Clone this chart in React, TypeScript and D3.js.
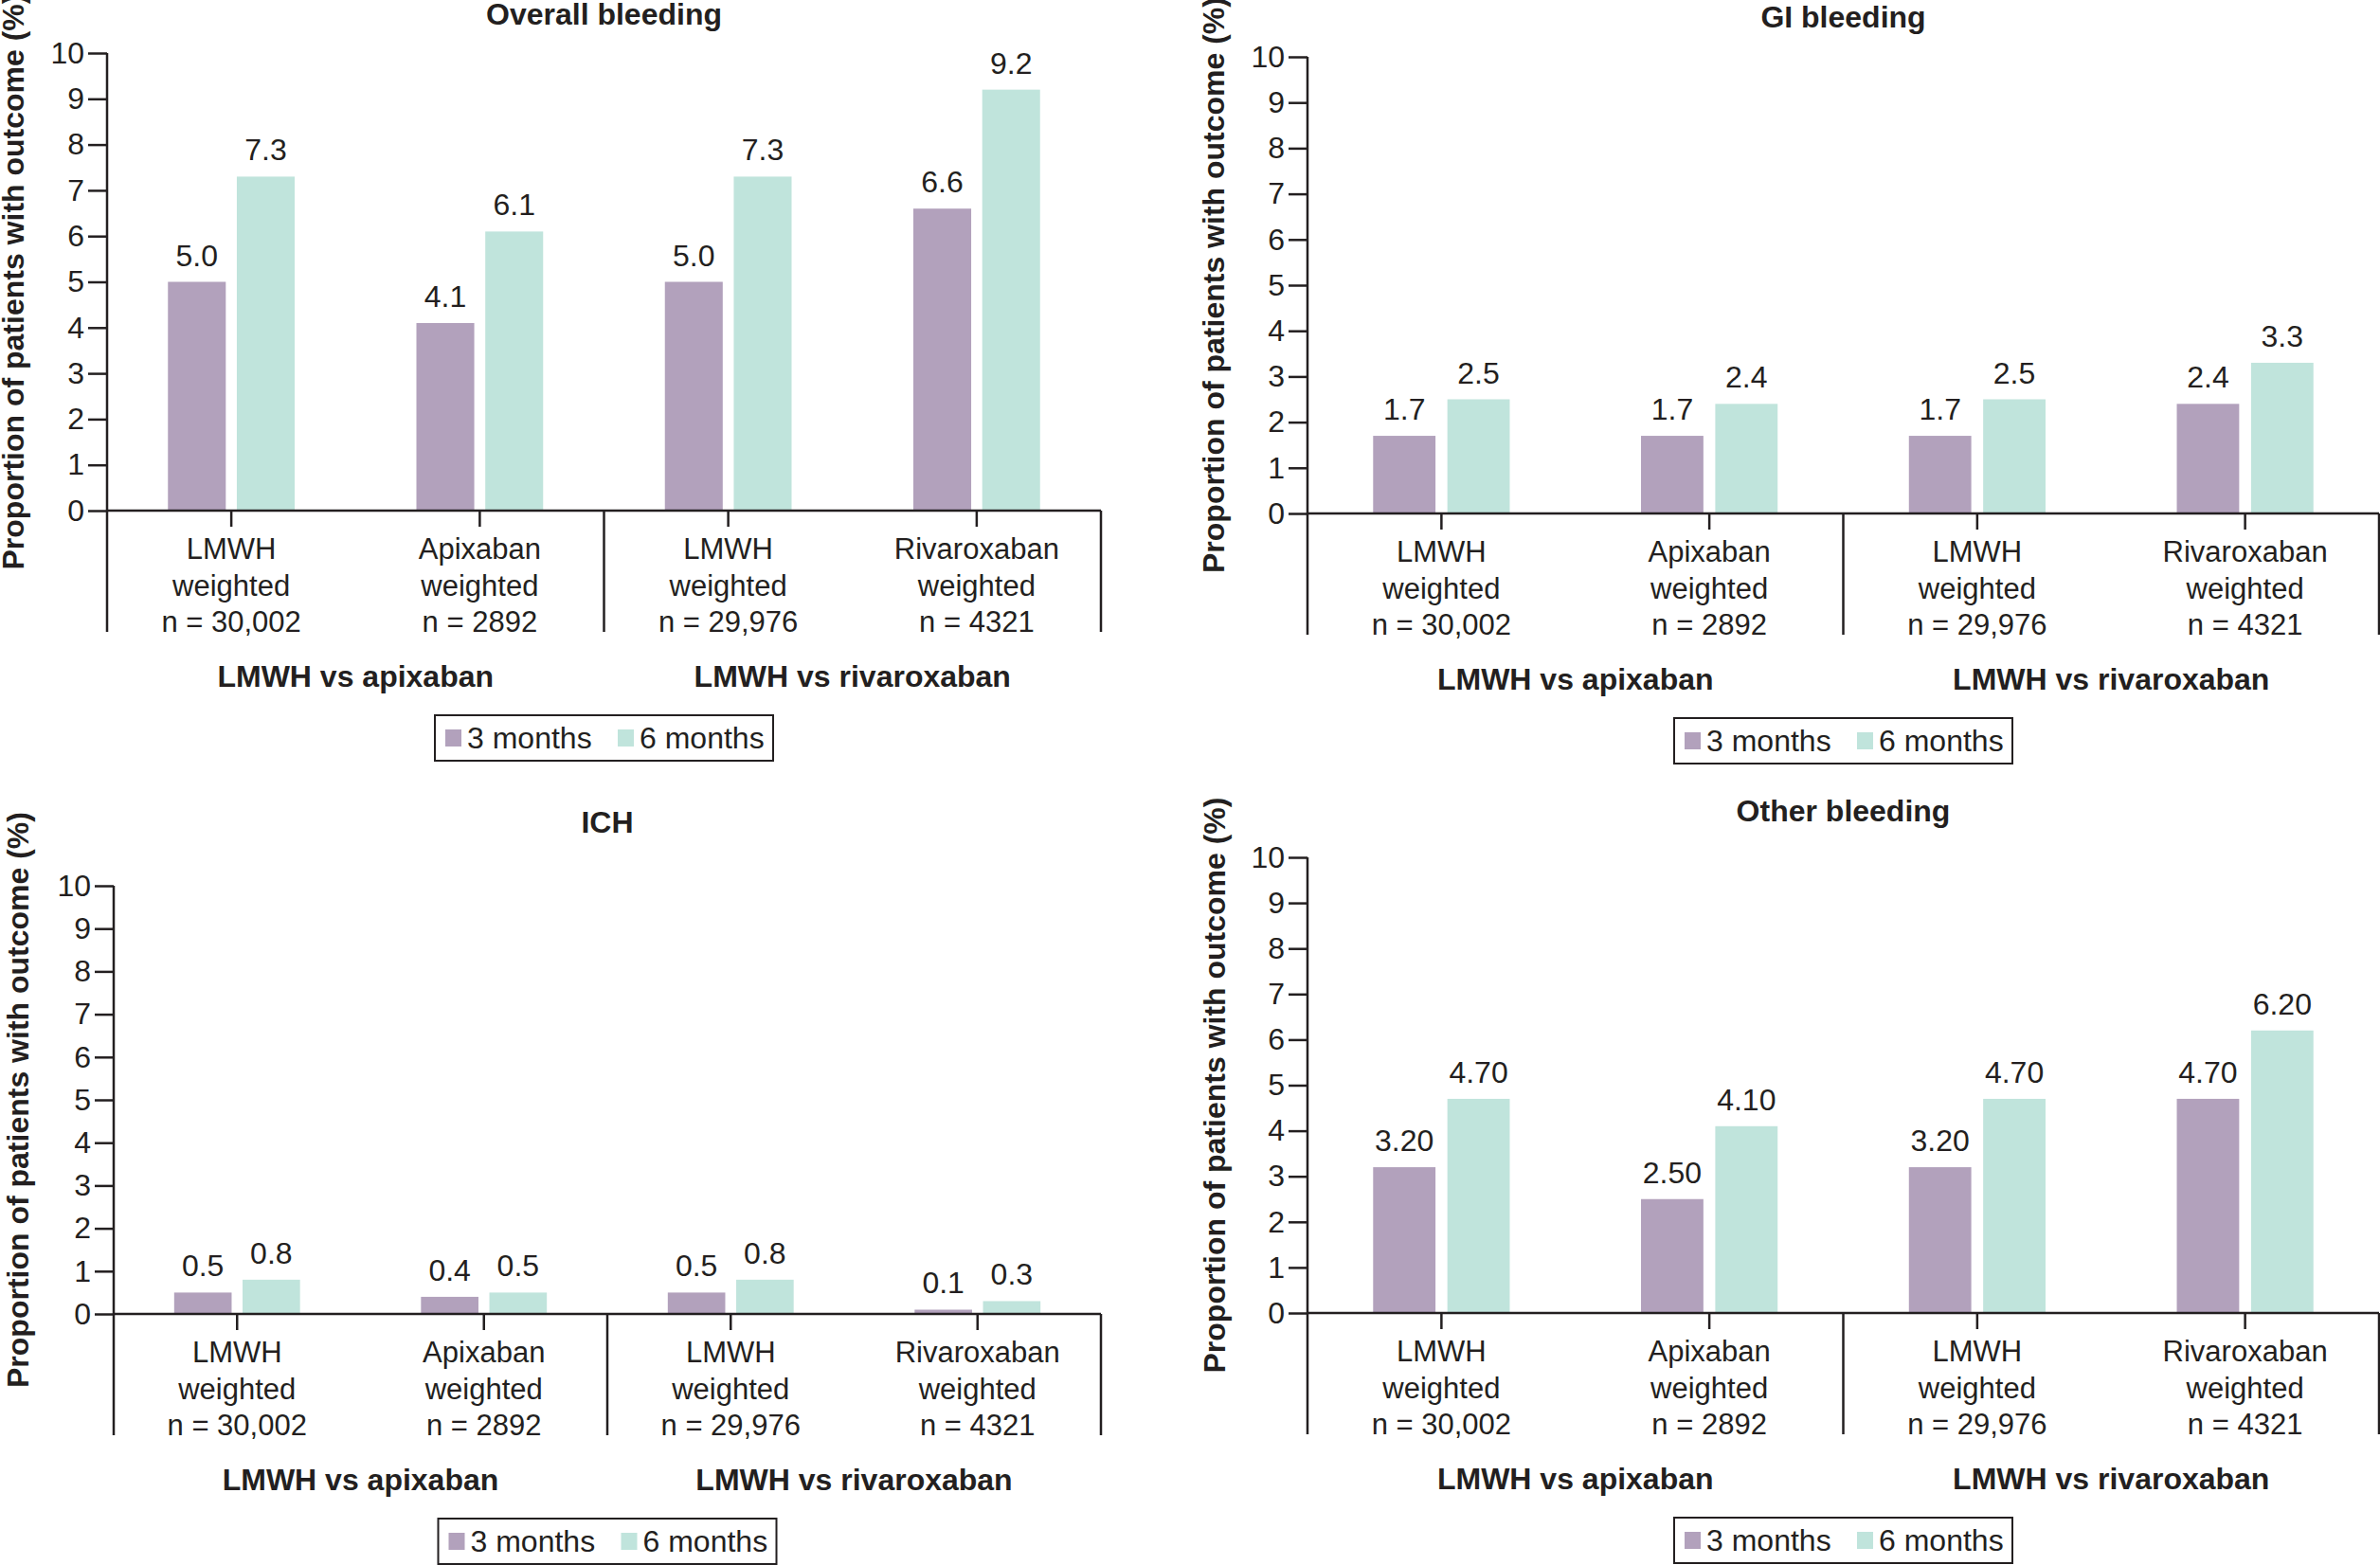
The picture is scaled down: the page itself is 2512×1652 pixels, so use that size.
import React, { useEffect, useRef } from "react";
import { select, scaleBand, scaleLinear, axisLeft } from "d3";

// categories along the x axis, one entry per line of the label
const categoryLines = [
  ["LMWH", "weighted", "n = 30,002"],
  ["Apixaban", "weighted", "n = 2892"],
  ["LMWH", "weighted", "n = 29,976"],
  ["Rivaroxaban", "weighted", "n = 4321"],
];
const groupLabels = ["LMWH vs apixaban", "LMWH vs rivaroxaban"];
const seriesNames = ["3 months", "6 months"];
const yTicks = [0, 1, 2, 3, 4, 5, 6, 7, 8, 9, 10];

const overall3 = [5.0, 4.1, 5.0, 6.6];
const overall6 = [7.3, 6.1, 7.3, 9.2];
const gi3 = [1.7, 1.7, 1.7, 2.4];
const gi6 = [2.5, 2.4, 2.5, 3.3];
const ich3 = [0.5, 0.4, 0.5, 0.1];
const ich6 = [0.8, 0.5, 0.8, 0.3];
const other3 = [3.2, 2.5, 3.2, 4.7];
const other6 = [4.7, 4.1, 4.7, 6.2];

const colors = ["#b2a1bc", "#c0e4dc"];
const ink = "#231f20";
const font = "'Liberation Sans', Arial, Helvetica, sans-serif";

const panels = [
  { title: "Overall bleeding", s3: overall3, s6: overall6, digits: 1, x0: 113, x1: 1162, yTop: 56, y0: 539, titleY: 15, yTitleX: 14 },
  { title: "GI bleeding", s3: gi3, s6: gi6, digits: 1, x0: 1380, x1: 2511, yTop: 60, y0: 542, titleY: 18, yTitleX: 1281 },
  { title: "ICH", s3: ich3, s6: ich6, digits: 1, x0: 120, x1: 1162, yTop: 935, y0: 1387, titleY: 868, yTitleX: 19 },
  { title: "Other bleeding", s3: other3, s6: other6, digits: 2, x0: 1380, x1: 2511, yTop: 905, y0: 1386, titleY: 856, yTitleX: 1282 },
];

export default function App() {
  const svgRef = useRef<SVGSVGElement>(null);

  useEffect(() => {
    const svg = select(svgRef.current);
    svg.selectAll("*").remove();

    panels.forEach((p) => {
      const g = svg.append("g").attr("font-family", font).attr("fill", ink);
      const mid = (p.x0 + p.x1) / 2;
      const bottom = p.y0 + 128;

      const x = scaleBand<number>().domain([0, 1, 2, 3]).range([p.x0, p.x1]);
      const inner = scaleBand<number>()
        .domain([0, 1])
        .range([x.bandwidth() * 0.245, x.bandwidth() * 0.755])
        .paddingInner(0.16);
      const y = scaleLinear().domain([0, 10]).range([p.y0, p.yTop]);

      // title
      g.append("text")
        .attr("x", mid)
        .attr("y", p.titleY + 11)
        .attr("text-anchor", "middle")
        .attr("font-size", 32)
        .attr("font-weight", "bold")
        .text(p.title);

      // y axis title
      g.append("text")
        .attr("transform", `translate(${p.yTitleX},${(p.y0 + p.yTop) / 2}) rotate(-90)`)
        .attr("text-anchor", "middle")
        .attr("dominant-baseline", "central")
        .attr("font-size", 32)
        .attr("font-weight", "bold")
        .text("Proportion of patients with outcome (%)");

      // bars
      const series = [p.s3, p.s6];
      series.forEach((vals, si) => {
        g.selectAll(null)
          .data(vals)
          .join("rect")
          .attr("x", (_, i) => (x(i) as number) + (inner(si) as number))
          .attr("width", inner.bandwidth())
          .attr("y", (v) => y(v))
          .attr("height", (v) => p.y0 - y(v))
          .attr("fill", colors[si]);

        g.selectAll(null)
          .data(vals)
          .join("text")
          .attr("x", (_, i) => (x(i) as number) + (inner(si) as number) + inner.bandwidth() / 2)
          .attr("y", (v) => y(v) - 17)
          .attr("text-anchor", "middle")
          .attr("font-size", 32)
          .text((v) => v.toFixed(p.digits));
      });

      // y axis
      const yAxis = axisLeft(y).tickValues(yTicks).tickSize(20).tickPadding(4).tickSizeOuter(0);
      const ya = g.append("g").attr("transform", `translate(${p.x0},0)`).call(yAxis);
      ya.select(".domain").remove();
      ya.selectAll("line").attr("stroke", ink).attr("stroke-width", 2.5);
      ya.selectAll("text").attr("font-size", 32).attr("font-family", font).attr("fill", ink);

      const lines = g.append("g").attr("stroke", ink).attr("stroke-width", 2.5);
      // vertical axis line continuing down into the label area
      lines.append("line").attr("x1", p.x0).attr("x2", p.x0).attr("y1", p.yTop).attr("y2", bottom);
      lines.append("line").attr("x1", mid).attr("x2", mid).attr("y1", p.y0).attr("y2", bottom);
      lines.append("line").attr("x1", p.x1).attr("x2", p.x1).attr("y1", p.y0).attr("y2", bottom);
      // baseline
      lines.append("line").attr("x1", p.x0).attr("x2", p.x1).attr("y1", p.y0).attr("y2", p.y0);
      // category ticks
      lines
        .selectAll(null)
        .data(categoryLines)
        .join("line")
        .attr("x1", (_, i) => (x(i) as number) + x.bandwidth() / 2)
        .attr("x2", (_, i) => (x(i) as number) + x.bandwidth() / 2)
        .attr("y1", p.y0)
        .attr("y2", p.y0 + 17);

      // category labels
      categoryLines.forEach((cl, i) => {
        const cx = (x(i) as number) + x.bandwidth() / 2;
        cl.forEach((t, li) => {
          g.append("text")
            .attr("x", cx)
            .attr("y", p.y0 + 51 + li * 38.5)
            .attr("text-anchor", "middle")
            .attr("font-size", 31)
            .text(t);
        });
      });

      // group labels
      groupLabels.forEach((t, gi) => {
        g.append("text")
          .attr("x", gi === 0 ? (p.x0 + mid) / 2 : (mid + p.x1) / 2)
          .attr("y", p.y0 + 186)
          .attr("text-anchor", "middle")
          .attr("font-size", 32)
          .attr("font-weight", "bold")
          .text(t);
      });

      // legend
      const lw = 357;
      const lx = mid - lw / 2;
      const ly = p.y0 + 216;
      const leg = g.append("g").attr("transform", `translate(${lx},${ly})`);
      leg.append("rect")
        .attr("width", lw)
        .attr("height", 48)
        .attr("fill", "none")
        .attr("stroke", ink)
        .attr("stroke-width", 2);
      const offs = [11, 193];
      seriesNames.forEach((name, si) => {
        leg.append("rect")
          .attr("x", offs[si])
          .attr("y", 15)
          .attr("width", 17)
          .attr("height", 18)
          .attr("fill", colors[si]);
        leg.append("text")
          .attr("x", offs[si] + 23)
          .attr("y", 35)
          .attr("font-size", 32)
          .text(name);
      });
    });
  }, []);

  return (
    <svg
      ref={svgRef}
      width={2512}
      height={1652}
      viewBox="0 0 2512 1652"
      style={{ position: "absolute", left: 0, top: 0, background: "#fff" }}
    />
  );
}
